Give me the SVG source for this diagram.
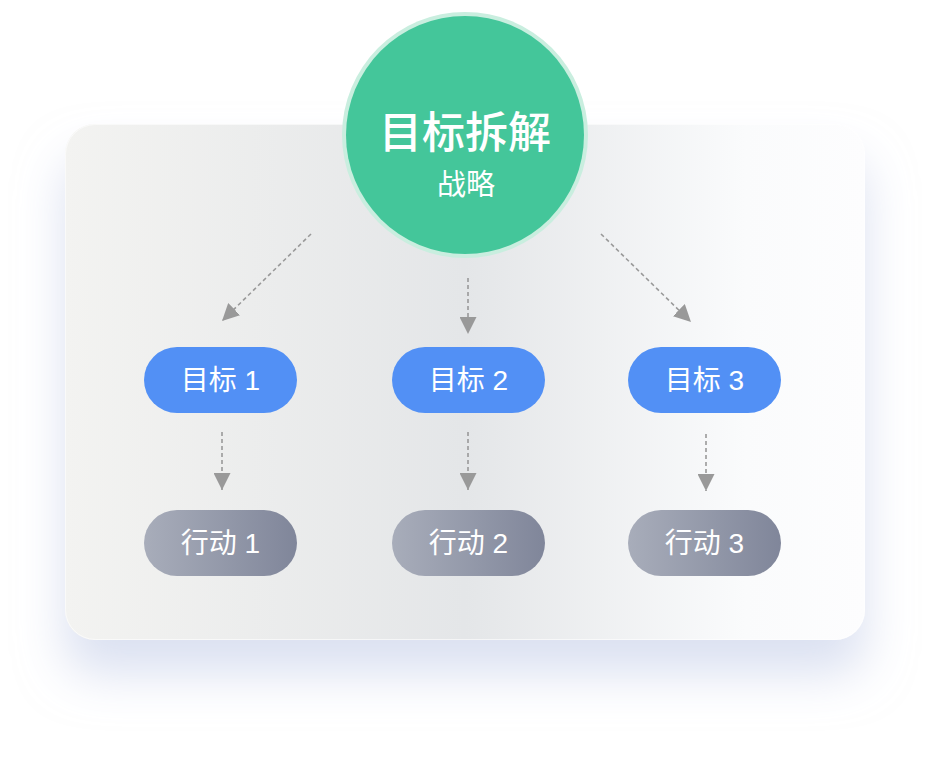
<svg xmlns="http://www.w3.org/2000/svg" width="934" height="758" viewBox="0 0 934 758">
<defs>
<linearGradient id="panelG" x1="0" y1="0" x2="1" y2="0">
<stop offset="0" stop-color="#f3f3f1"/>
<stop offset="0.5" stop-color="#e4e6e8"/>
<stop offset="0.85" stop-color="#fafbfc"/>
<stop offset="1" stop-color="#fdfdfe"/>
</linearGradient>
<linearGradient id="greyG" x1="0" y1="0" x2="1" y2="0">
<stop offset="0" stop-color="#a8adba"/>
<stop offset="1" stop-color="#80869a"/>
</linearGradient>
<filter id="shadow" x="-20%" y="-20%" width="140%" height="150%">
<feGaussianBlur in="SourceAlpha" stdDeviation="24"/>
<feOffset dy="34" result="b"/>
<feFlood flood-color="#c3cde8" flood-opacity="0.6"/>
<feComposite in2="b" operator="in"/>
<feMerge><feMergeNode/><feMergeNode in="SourceGraphic"/></feMerge>
</filter>
<marker id="arrB" viewBox="0 0 10 10" refX="10" refY="5" markerWidth="17" markerHeight="17" markerUnits="userSpaceOnUse" orient="auto">
<path d="M0,0 L10,5 L0,10 Z" fill="#999"/>
</marker>
<style>
.blue{fill:#5290f5}
.grey{fill:url(#greyG)}
.lbl{font-family:"Liberation Sans","Noto Sans CJK SC",sans-serif;font-size:28px;fill:#fff;text-anchor:middle}
.con{stroke:#999;stroke-width:1.6;stroke-dasharray:4 3;fill:none;marker-end:url(#arrB)}
</style>
</defs>
<rect width="934" height="758" fill="#fff"/>
<g id="panel">
<rect x="65" y="124" width="800" height="516" rx="30" fill="url(#panelG)" filter="url(#shadow)"/>
<rect x="65.5" y="124.5" width="799" height="515" rx="30" fill="none" stroke="#ffffff" stroke-opacity="0.6"/>
</g>
<g id="connectors">
<line class="con" x1="311" y1="234" x2="222" y2="321"/>
<line class="con" x1="468" y1="278" x2="468" y2="334"/>
<line class="con" x1="601" y1="234" x2="691" y2="322"/>
<line class="con" x1="222" y1="432" x2="222" y2="490"/>
<line class="con" x1="468" y1="432" x2="468" y2="490"/>
<line class="con" x1="706" y1="434" x2="706" y2="491"/>
</g>
<g id="strategy">
<circle cx="465" cy="135" r="123" fill="#c9eedf"/>
<circle cx="465" cy="135" r="119" fill="#44c69a"/>
<text x="465" y="148" font-family="'Noto Sans CJK SC','Noto Sans',sans-serif" font-size="43" font-weight="500" fill="#fff" text-anchor="middle">目标拆解</text>
<text x="466" y="195" font-family="'Noto Sans CJK SC','Noto Sans',sans-serif" font-size="29" fill="#fff" text-anchor="middle">战略</text>
</g>
<g id="goal1"><rect class="blue" x="144" y="347" width="153" height="66" rx="33"/><text class="lbl" x="220.5" y="390">目标 1</text></g>
<g id="goal2"><rect class="blue" x="392" y="347" width="153" height="66" rx="33"/><text class="lbl" x="468.5" y="390">目标 2</text></g>
<g id="goal3"><rect class="blue" x="628" y="347" width="153" height="66" rx="33"/><text class="lbl" x="704.5" y="390">目标 3</text></g>
<g id="action1"><rect class="grey" x="144" y="510" width="153" height="66" rx="33"/><text class="lbl" x="220.5" y="553">行动 1</text></g>
<g id="action2"><rect class="grey" x="392" y="510" width="153" height="66" rx="33"/><text class="lbl" x="468.5" y="553">行动 2</text></g>
<g id="action3"><rect class="grey" x="628" y="510" width="153" height="66" rx="33"/><text class="lbl" x="704.5" y="553">行动 3</text></g>
</svg>
